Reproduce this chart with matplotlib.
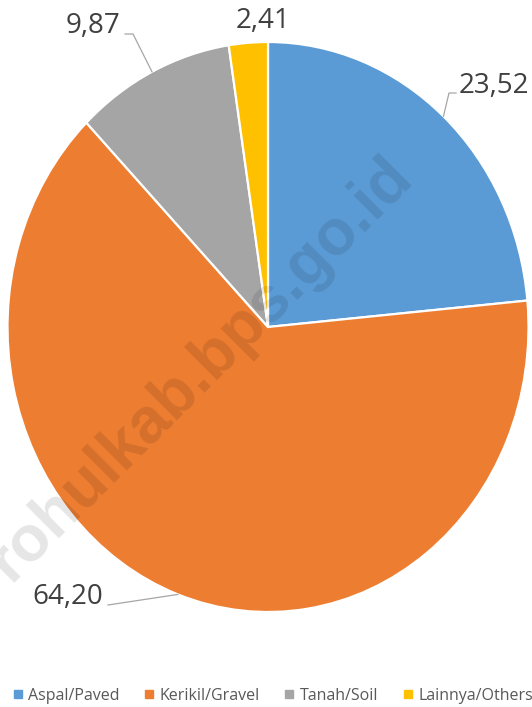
import numpy as np
import matplotlib.pyplot as plt
from matplotlib.lines import Line2D

categories = ["Aspal/Paved", "Kerikil/Gravel", "Tanah/Soil", "Lainnya/Others"]
values = [23.52, 64.20, 9.87, 2.41]
colors = ["#5B9BD5", "#ED7D31", "#A5A5A5", "#FFC000"]

W, H = 532, 707
CX, CY, RX, RY = 268, 327, 260.5, 285


def to_data(px, py):
    return (px - CX) / RX, (CY - py) / RY


def main():
    plt.rcParams['font.family'] = ['Open Sans', 'DejaVu Sans']
    fig = plt.figure(figsize=(W / 100, H / 100), dpi=100, facecolor="white")
    ax = fig.add_axes([(CX - RX) / W, (H - CY - RY) / H, 2 * RX / W, 2 * RY / H])
    wedges, _ = ax.pie(values, colors=colors, startangle=90, counterclock=False,
                       wedgeprops=dict(edgecolor="white", linewidth=1.6))
    ax.set_aspect("auto")
    ax.set_xlim(-1, 1)
    ax.set_ylim(-1, 1)
    ax.axis("off")

    # label text anchors (px, baseline) and leader line elbows
    label_pos = [(459, 93, "left"), (68, 604, "center"), (93, 33, "center"), (263, 28, "center")]
    elbows = [[(449, 93), (456, 93)], [(108, 605)], [(133, 34), (125, 34)], None]

    for i, w in enumerate(wedges):
        ang = np.deg2rad((w.theta1 + w.theta2) / 2)
        ex, ey = np.cos(ang), np.sin(ang)
        px, py, ha = label_pos[i]
        tx, ty = to_data(px, py)
        ax.text(tx, ty, f"{values[i]:.2f}".replace(".", ","), ha=ha, va="baseline",
                fontsize=20, color="#404040", clip_on=False)
        if elbows[i]:
            xs = [ex] + [to_data(*p)[0] for p in elbows[i]]
            ys = [ey] + [to_data(*p)[1] for p in elbows[i]]
            ax.plot(xs, ys, color="#A6A6A6", lw=0.9, clip_on=False, zorder=3)

    handles = [Line2D([], [], marker="s", ls="", color=c, markersize=6) for c in colors]
    fig.legend(handles, categories, loc="lower center", bbox_to_anchor=(0.513, -0.016),
               ncol=4, frameon=False, handlelength=0.6, handletextpad=0.35,
               columnspacing=1.55, fontsize=11.5, labelcolor="#595959")

    # watermark
    fig.text(212 / W, 1 - 381 / H, "rohulkab.bps.go.id", rotation=45, rotation_mode="anchor",
             ha="center", va="baseline", fontsize=46, fontweight="bold",
             family="Liberation Sans", color="black", alpha=0.1, zorder=10)

    plt.savefig("out.png", dpi=100)


if __name__ == "__main__":
    main()
